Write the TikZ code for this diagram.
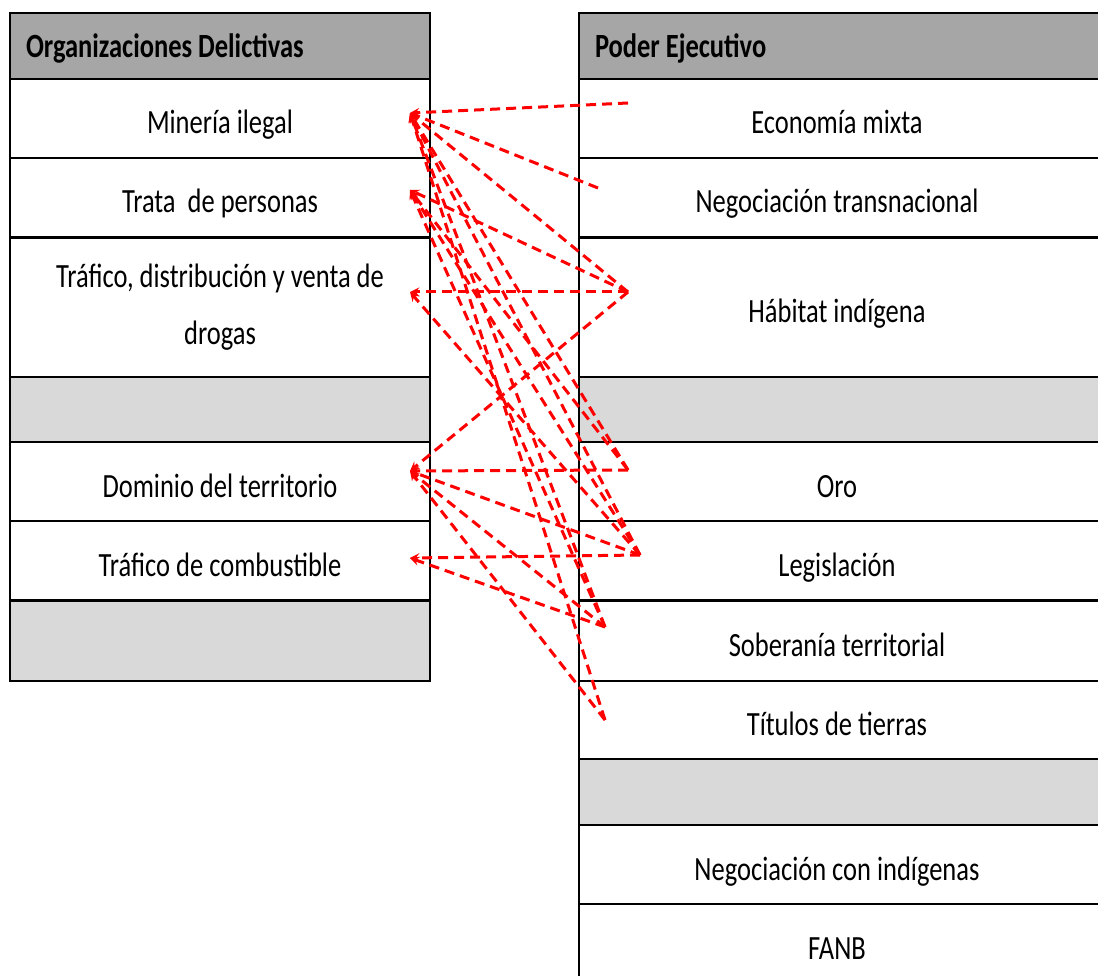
\documentclass[tikz,border=0pt]{standalone}
\usepackage{fontspec}
\setmainfont{Carlito}
\usepackage{graphicx}
\usepackage{tikz}
\usetikzlibrary{arrows}
\tikzset{>=stealth}
\newcommand{\tall}[1]{\scalebox{1}[1.28]{#1}}
\newcommand{\rtext}[1]{\makebox[516pt]{\tall{#1}}\hspace*{24pt}}
\tikzset{
  row/.style={draw=black, line width=2pt, anchor=north west, inner sep=0pt,
    minimum height=79pt, font=\fontsize{26.5}{44}\selectfont},
  cell/.style={row, fill=white, text height=36pt, text depth=5pt},
  gap/.style={row, fill=black!15},
  head/.style={row, fill=black!35, minimum height=66pt, align=flush left,
    font=\fontsize{26.5}{44}\selectfont\bfseries, text height=30pt, text depth=6pt},
  lcol/.style={minimum width=420pt},
  rcol/.style={minimum width=540pt},
  link/.style={->, draw=red, line width=3pt, dash pattern=on 10pt off 6pt}
}

\begin{document}
\begin{tikzpicture}[x=1pt, y=-1pt, >=stealth]
  \useasboundingbox[fill=white] (0,0) rectangle (1098,976);
  \clip (0,0) rectangle (1098,976);

  % organizaciones delictivas
  \node[head, lcol, text width=388pt, inner xsep=16pt] (O0) at (9,12) {\tall{Organizaciones Delictivas}};
  \node[cell, lcol] (O1) at (9,78) {\tall{Minería ilegal}};
  \node[cell, lcol] (O2) at (9,157) {\tall{Trata\ \ de personas}};
  \node[row, lcol, fill=white, minimum height=139pt, align=center] (O3) at (9,237)
    {\tall{Tráfico, distribución y venta de}\\[13pt]\tall{drogas}};
  \node[gap, lcol, minimum height=65pt] (O4) at (9,376) {};
  \node[cell, lcol] (O5) at (9,441) {\tall{Dominio del territorio}};
  \node[cell, lcol] (O6) at (9,520) {\tall{Tráfico de combustible}};
  \node[gap, lcol, minimum height=80pt] (O7) at (9,600) {};

  % poder ejecutivo
  \node[head, rcol, text width=508pt, inner xsep=16pt] (P0) at (578,12) {\tall{Poder Ejecutivo}};
  \node[cell, rcol] (P1) at (578,78) {\rtext{Economía mixta}};
  \node[cell, rcol] (P2) at (578,157) {\rtext{Negociación transnacional}};
  \node[cell, rcol, minimum height=139pt] (P3) at (578,237) {\rtext{Hábitat indígena}};
  \node[gap, rcol, minimum height=65pt] (P4) at (578,376) {};
  \node[cell, rcol] (P5) at (578,441) {\rtext{Oro}};
  \node[cell, rcol] (P6) at (578,520) {\rtext{Legislación}};
  \node[cell, rcol, minimum height=80pt] (P7) at (578,600) {\rtext{Soberanía territorial}};
  \node[cell, rcol, minimum height=78pt] (P8) at (578,680) {\rtext{Títulos de tierras}};
  \node[gap, rcol, minimum height=66pt] (P9) at (578,758) {};
  \node[cell, rcol] (P10) at (578,824) {\rtext{Negociación con indígenas}};
  \node[cell, rcol] (P11) at (578,903) {\rtext{FANB}};

  % arrow ends
  \coordinate (a1) at (410,113); \coordinate (a2) at (410,190);
  \coordinate (a3) at (410,292); \coordinate (a4) at (410,471);
  \coordinate (a5) at (410,558);
  \coordinate (b1) at (628,103); \coordinate (b2) at (598,188);
  \coordinate (b3) at (628,292); \coordinate (b4) at (628,470);
  \coordinate (b5) at (640,555); \coordinate (b6) at (605,627);
  \coordinate (b7) at (605,720);

  \draw[link] (b1)--(a1); \draw[link] (b2)--(a1); \draw[link] (b3)--(a1);
  \draw[link] (b4)--(a1); \draw[link] (b5)--(a1); \draw[link] (b6)--(a1);
  \draw[link] (b7)--(a1);
  \draw[link] (b3)--(a2); \draw[link] (b4)--(a2); \draw[link] (b5)--(a2);
  \draw[link] (b6)--(a2);
  \draw[link] (b3)--(a3); \draw[link] (b5)--(a3);
  \draw[link] (b3)--(a4); \draw[link] (b4)--(a4); \draw[link] (b5)--(a4);
  \draw[link] (b6)--(a4); \draw[link] (b7)--(a4);
  \draw[link] (b5)--(a5); \draw[link] (b6)--(a5);
\end{tikzpicture}
\end{document}
